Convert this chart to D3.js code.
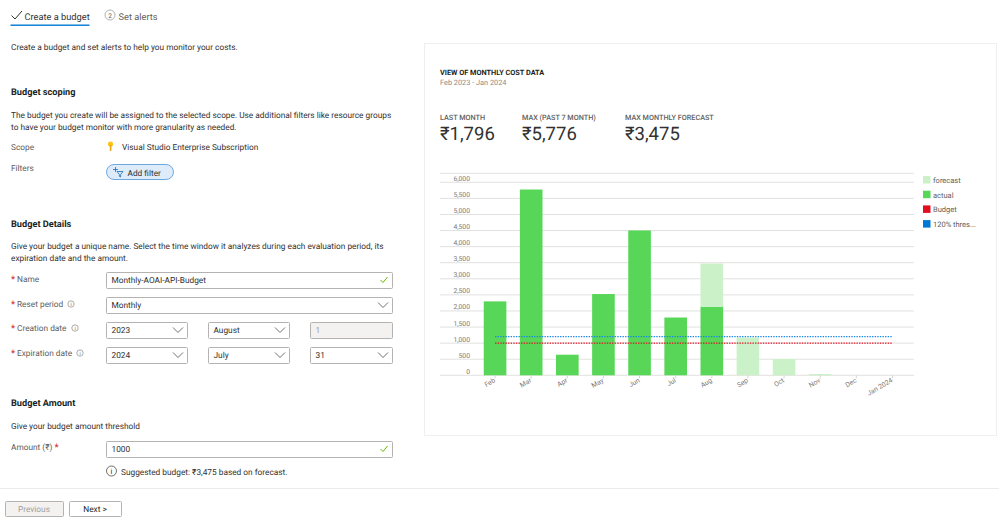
<!DOCTYPE html>
<html lang="en">
<head>
<meta charset="UTF-8">
<title>Create a budget</title>
<script src="https://d3js.org/d3.v7.min.js"></script>
<style>
  html, body { margin: 0; padding: 0; background: #fff; }
  svg { display: block; }
  text { font-family: Roboto, "Open Sans", sans-serif; fill: #323130; text-rendering: geometricPrecision; }
  .chart-axis text { fill: #7d7b79; font-size: 6.8px; }
</style>
</head>
<body>
<svg id="main" width="999" height="525"></svg>
<script>
// chart data
const months = ['Feb','Mar','Apr','May','Jun','Jul','Aug','Sep','Oct','Nov','Dec','Jan 2024'];
const actual = [2298,5776,640,2526,4503,1796,2132,0,0,0,0,0];
const forecast = [0,0,0,0,0,0,1343,1170,507,40,0,0];
const budget = [1000,1000,1000,1000,1000,1000,1000,1000,1000,1000,1000,1000];
const threshold = [1200,1200,1200,1200,1200,1200,1200,1200,1200,1200,1200,1200];
const yTicks = [0,500,1000,1500,2000,2500,3000,3500,4000,4500,5000,5500,6000];
const legendLabels = ['forecast','actual','Budget','120% thres...'];
const legendColors = ['#cbf1c8','#57d658','#e20f21','#0078d4'];
const stats = [['LAST MONTH','₹1,796'],['MAX (PAST 7 MONTH)','₹5,776'],['MAX MONTHLY FORECAST','₹3,475']];

const svg = d3.select('#main');
const bodySize = 8.3;
const headSize = 9.2;

function label(x, y, str, size, opts) {
    opts = opts || {};
    return svg.append('text').attr('x', x).attr('y', y).text(str)
        .style('font-size', size + 'px')
        .style('font-weight', opts.weight || 400)
        .style('fill', opts.fill || '#323130')
        .style('text-anchor', opts.anchor || 'start');
}
function chevron(x, y) {
    svg.append('path').attr('d', `M${x-5},${y-2.5}L${x},${y+2.5}L${x+5},${y-2.5}`)
        .attr('fill', 'none').attr('stroke', '#605e5c').attr('stroke-width', 0.9);
}
function check(x, y) {
    svg.append('path').attr('d', `M${x-3.5},${y}L${x-1},${y+2.5}L${x+3.5},${y-3}`)
        .attr('fill', 'none').attr('stroke', '#6bb700').attr('stroke-width', 1);
}
function box(x0, x1, y0, y1, fill) {
    svg.append('rect').attr('x', x0 + .5).attr('y', y0 + .5).attr('width', x1 - x0).attr('height', y1 - y0)
        .attr('rx', 1).attr('fill', fill || '#fff').attr('stroke', '#b5b3b1');
}
function field(x0, x1, y0, str, kind) {
    box(x0, x1, y0, y0 + 16, kind === 'disabled' ? '#f3f2f1' : '#fff');
    label(x0 + 5.5, y0 + 11.2, str, bodySize, {fill: kind === 'disabled' ? '#a19f9d' : '#323130'});
    if (kind === 'select') chevron(x1 - 9, y0 + 8);
    if (kind === 'ok') check(x1 - 8, y0 + 8);
}
function infoIcon(x, y) {
    svg.append('circle').attr('cx', x).attr('cy', y).attr('r', 3.2).attr('fill', 'none').attr('stroke', '#8a8886').attr('stroke-width', .7);
    label(x, y + 2, 'i', 5, {anchor: 'middle', fill: '#605e5c'});
}
function required(x, y, str, info) {
    label(x, y + 3, '*', 9, {fill: '#d13438', weight: 700});
    label(x + 6, y + 3, str, bodySize, {fill: '#605e5c'});
    if (info) infoIcon(info, y);
}

// tabs
svg.append('path').attr('d', 'M11.5,15.5L15,19L22,11').attr('fill', 'none').attr('stroke', '#323130').attr('stroke-width', 1);
label(24.5, 19.5, 'Create a budget', 9.25);
svg.append('rect').attr('x', 10.5).attr('y', 24.5).attr('width', 79).attr('height', 1.4).attr('fill', '#0078d4');
svg.append('circle').attr('cx', 110).attr('cy', 15).attr('r', 5).attr('fill', 'none').attr('stroke', '#a19f9d').attr('stroke-width', .8);
label(110, 17.5, '2', 6.5, {anchor: 'middle', fill: '#605e5c'});
label(118.5, 19.5, 'Set alerts', 9.25, {fill: '#605e5c'});

label(11, 49.5, 'Create a budget and set alerts to help you monitor your costs.', bodySize);

// budget scoping
label(11, 95, 'Budget scoping', headSize, {weight: 700, fill: '#201f1e'});
label(11, 118, 'The budget you create will be assigned to the selected scope. Use additional filters like resource groups', bodySize);
label(11, 130, 'to have your budget monitor with more granularity as needed.', bodySize);
label(11, 150, 'Scope', bodySize, {fill: '#605e5c'});
svg.append('circle').attr('cx', 110.5).attr('cy', 144).attr('r', 2.6).attr('fill', '#fcc419');
svg.append('rect').attr('x', 109.8).attr('y', 145).attr('width', 1.6).attr('height', 6).attr('fill', '#e8a90e');
label(122, 150, 'Visual Studio Enterprise Subscription', bodySize);
label(11, 171, 'Filters', bodySize, {fill: '#605e5c'});
svg.append('rect').attr('x', 106.5).attr('y', 164.5).attr('width', 67).attr('height', 15).attr('rx', 7.5)
    .attr('fill', '#deecf9').attr('stroke', '#4b95d8').attr('stroke-width', .8);
svg.append('path').attr('d', 'M113,169.5h5M115.5,167v5M117,171.5h6l-2.4,3v2.5l-1.2,-.6v-1.9z')
    .attr('fill', 'none').attr('stroke', '#1a6cb8').attr('stroke-width', .8);
label(127.5, 175.5, 'Add filter', bodySize);

// budget details
label(11, 227, 'Budget Details', headSize, {weight: 700, fill: '#201f1e'});
label(11, 249, 'Give your budget a unique name. Select the time window it analyzes during each evaluation period, its', bodySize);
label(11, 261, 'expiration date and the amount.', bodySize);
required(11, 279, 'Name');
field(106, 392, 272, 'Monthly-AOAI-API-Budget', 'ok');
required(11, 304, 'Reset period', 71);
field(106, 392, 297, 'Monthly', 'select');
required(11, 328, 'Creation date', 75);
field(106, 187, 322, '2023', 'select');
field(208, 289, 322, 'August', 'select');
field(310, 392, 322, '1', 'disabled');
required(11, 353, 'Expiration date', 80);
field(106, 187, 347, '2024', 'select');
field(208, 289, 347, 'July', 'select');
field(310, 392, 347, '31', 'select');

// budget amount
label(11, 406, 'Budget Amount', headSize, {weight: 700, fill: '#201f1e'});
label(11, 429, 'Give your budget amount threshold', bodySize);
label(11, 450, 'Amount (₹)', bodySize, {fill: '#605e5c'});
label(54.5, 450, '*', 9, {fill: '#d13438', weight: 700});
field(106, 392, 441, '1000', 'ok');
svg.append('circle').attr('cx', 111.5).attr('cy', 471).attr('r', 5).attr('fill', 'none').attr('stroke', '#323130').attr('stroke-width', .7);
label(111.5, 474, 'i', 7.5, {anchor: 'middle'});
label(121, 475, 'Suggested budget: ₹3,475 based on forecast.', bodySize);

// footer
svg.append('line').attr('x1', 0).attr('x2', 999).attr('y1', 488.5).attr('y2', 488.5).attr('stroke', '#edebe9');
box(5, 63, 501, 516, '#f3f2f1');
label(34, 512, 'Previous', bodySize, {anchor: 'middle', fill: '#a19f9d'});
box(69, 121, 501, 516, '#fff');
label(95, 512, 'Next >', bodySize, {anchor: 'middle', fill: '#201f1e'});

// chart panel
svg.append('rect').attr('x', 424.5).attr('y', 43.5).attr('width', 572).attr('height', 392)
    .attr('fill', '#fff').attr('stroke', '#f0efee');
label(440, 75, 'VIEW OF MONTHLY COST DATA', 7.3, {weight: 700, fill: '#201f1e'});
label(440, 85, 'Feb 2023 - Jan 2024', 7.35, {fill: '#8a8886'});
const statOffsets = [440, 522, 625];
stats.forEach((d, i) => {
    label(statOffsets[i], 119.5, d[0], 7.25, {weight: 500, fill: '#605e5c'});
    label(statOffsets[i], 139.5, d[1], 18.5, {fill: '#323130'});
});

// scales
const x = d3.scaleBand().domain(months).range([477, 910.5]).paddingInner(0.374).paddingOuter(0.187);
const y = d3.scaleLinear().domain([0, 6000]).range([375.3, 182.3]);

// gridlines
svg.append('g').selectAll('line').data(yTicks.concat([6280])).join('line')
    .attr('x1', 440).attr('x2', 914)
    .attr('y1', d => y(d)).attr('y2', d => y(d))
    .attr('stroke', '#dfdedd').attr('stroke-width', 0.9);

// stacked bars
const rows = months.map((m, i) => ({month: m, actual: actual[i], forecast: forecast[i]}));
const stack = d3.stack().keys(['actual', 'forecast'])(rows);
const barColors = {actual: '#57d658', forecast: '#cbf1c8'};
svg.append('g').selectAll('g').data(stack).join('g')
    .attr('fill', d => barColors[d.key])
    .selectAll('rect').data(d => d.filter(v => v[1] > v[0])).join('rect')
    .attr('x', d => x(d.data.month))
    .attr('width', x.bandwidth())
    .attr('y', d => y(d[1]))
    .attr('height', d => y(d[0]) - y(d[1]));

// budget and threshold lines
const line = d3.line().x((d, i) => x(months[i]) + x.bandwidth() / 2).y(d => y(d));
svg.append('path').datum(budget).attr('d', line).attr('fill', 'none')
    .attr('stroke', '#e20f21').attr('stroke-width', 1.3).attr('stroke-dasharray', '1.4 1.2');
svg.append('path').datum(threshold).attr('d', line).attr('fill', 'none')
    .attr('stroke', '#1a8ae5').attr('stroke-width', 1.3).attr('stroke-dasharray', '1.4 1.2');

// x axis
const xAxis = svg.append('g').attr('class', 'chart-axis').attr('transform', 'translate(0,375.3)')
    .call(d3.axisBottom(x).tickSize(3).tickPadding(1));
xAxis.select('.domain').remove();
xAxis.selectAll('line').attr('stroke', '#d5d4d3');
xAxis.selectAll('text')
    .attr('transform', 'translate(-3,0) rotate(-30)')
    .attr('dy', '0.5em')
    .style('text-anchor', 'end');

// y axis, labels sit just above their gridline
const yAxis = svg.append('g').attr('class', 'chart-axis').attr('transform', 'translate(470,-4.2)')
    .call(d3.axisLeft(y).tickValues(yTicks).tickSize(0).tickPadding(0).tickFormat(d3.format(',')));
yAxis.select('.domain').remove();

// legend
const legend = svg.append('g').selectAll('g').data(legendLabels).join('g')
    .attr('transform', (d, i) => `translate(923,${176 + i * 14.7})`);
legend.append('rect').attr('width', 7.5).attr('height', 7.5).attr('fill', (d, i) => legendColors[i]);
legend.append('text').attr('x', 10).attr('y', 6.8).text(d => d).style('font-size', '7.5px').style('fill', '#605e5c');
</script>
</body>
</html>
